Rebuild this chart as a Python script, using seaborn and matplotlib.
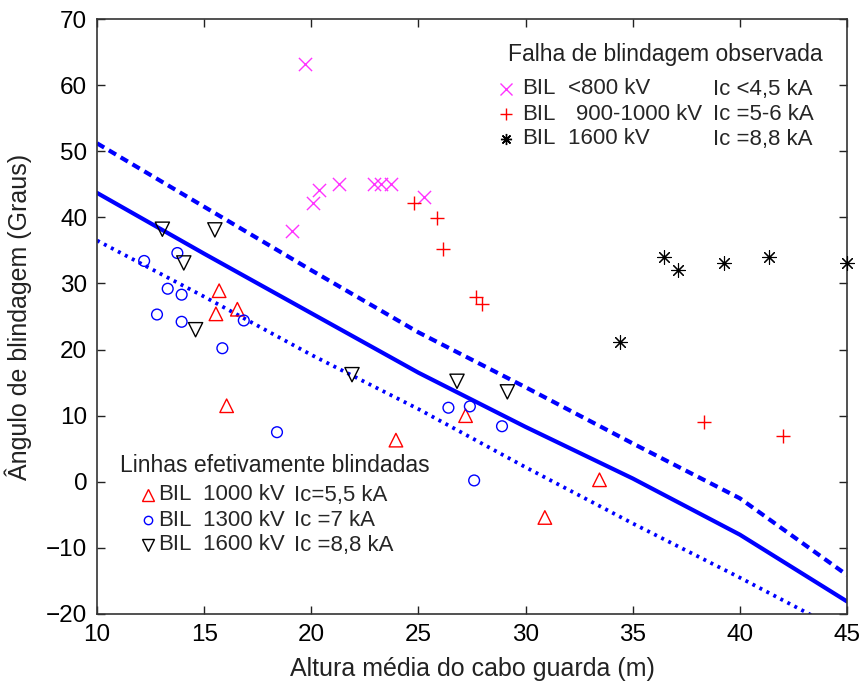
import seaborn as sns
import matplotlib.pyplot as plt

# curvas de referencia (media, limite superior, limite inferior)
curva_x = [10, 15, 20, 25, 30, 35, 40, 45]
curva_media = [43.7, 34.5, 25.5, 16.5, 8.3, 0.5, -8.0, -18.1]
curva_sup = [51.2, 41.6, 32.0, 22.6, 14.3, 5.8, -2.5, -14.1]
curva_inf = [36.5, 28.0, 19.2, 11.0, 2.2, -6.3, -14.5, -23.0]

# falha de blindagem observada
bil800_x = [19.7, 19.1, 20.1, 20.35, 21.3, 22.95, 23.25, 23.7, 25.25]
bil800_y = [63.2, 38.0, 42.2, 44.1, 45.0, 45.0, 45.0, 45.0, 43.1]
bil1000_x = [24.8, 25.85, 26.15, 27.7, 27.95, 38.35, 42.0]
bil1000_y = [42.2, 39.9, 35.2, 28.0, 26.9, 9.0, 7.0]
bil1600_x = [34.4, 36.45, 37.1, 39.25, 41.35, 45.0]
bil1600_y = [21.1, 34.0, 32.0, 33.1, 34.0, 33.1]

# linhas efetivamente blindadas
tri_x = [15.7, 15.55, 16.55, 16.05, 23.95, 27.2, 30.9, 33.45]
tri_y = [28.9, 25.4, 26.1, 11.5, 6.3, 10.0, -5.4, 0.3]
circ_x = [12.2, 13.75, 13.3, 13.95, 12.8, 13.95, 16.85, 15.85, 18.4, 26.4, 27.4, 28.9, 27.6]
circ_y = [33.4, 34.6, 29.2, 28.3, 25.3, 24.2, 24.4, 20.2, 7.5, 11.2, 11.4, 8.4, 0.2]
inv_x = [13.05, 15.5, 14.05, 14.6, 21.9, 26.8, 29.15]
inv_y = [38.2, 38.1, 33.1, 23.0, 16.2, 15.2, 13.6]

xticks = list(range(10, 46, 5))
yticks = list(range(-20, 71, 10))

sns.set_style("ticks")
plt.rcParams['font.family'] = ['Liberation Sans', 'DejaVu Sans']

W, H = 861, 686
fig = plt.figure(figsize=(W / 100, H / 100), dpi=100)
ax = fig.add_axes([97 / W, 1 - 614 / H, 750 / W, 595 / H])

def fx(px):
    return px / W

def fy(py):
    return 1 - py / H

blue = '#0000ff'
sns.lineplot(x=curva_x, y=curva_media, color=blue, lw=3, ax=ax)
sns.lineplot(x=curva_x, y=curva_sup, color=blue, lw=3, linestyle=(0, (2, 1.3)), ax=ax)
sns.lineplot(x=curva_x, y=curva_inf, color=blue, lw=2.7, linestyle=(0, (0.8, 1.3)), ax=ax)

asterisco = (8, 2, 0)
sns.scatterplot(x=bil800_x, y=bil800_y, marker='x', s=90, color='#ff33ff', linewidth=1, ax=ax, zorder=3)
sns.scatterplot(x=bil1000_x, y=bil1000_y, marker='+', s=110, color='#ff0000', linewidth=1, ax=ax, zorder=3)
sns.scatterplot(x=bil1600_x, y=bil1600_y, marker=asterisco, s=100, color='black', linewidth=0.8,
                ax=ax, zorder=3, clip_on=False)
sns.scatterplot(x=tri_x, y=tri_y, marker='^', s=95, facecolor='none', edgecolor='#ff0000', linewidth=1, ax=ax, zorder=3)
sns.scatterplot(x=circ_x, y=circ_y, marker='o', s=60, facecolor='none', edgecolor=blue, linewidth=1, ax=ax, zorder=3)
sns.scatterplot(x=inv_x, y=inv_y, marker='v', s=105, facecolor='none', edgecolor='black', linewidth=1, ax=ax, zorder=3)

ax.set_xlim(10, 45)
ax.set_ylim(-20, 70)
ax.set_xticks(xticks)
ax.set_yticks(yticks)
ax.tick_params(direction='in', length=6, width=1, top=True, right=True,
               labelsize=17.5, pad=7, colors='#222222', labelcolor='black')
for s in ax.spines.values():
    s.set_visible(True)
    s.set_linewidth(1.2)
    s.set_color('#333333')
ax.set_xlabel('Altura média do cabo guarda (m)', fontsize=18, labelpad=8, color='#222222')
ax.set_ylabel('Ângulo de blindagem (Graus)', fontsize=18, labelpad=10, color='#222222')

# legenda superior
fs = 16
fig.text(fx(508), fy(54), 'Falha de blindagem observada', fontsize=16.5, va='center', color='#222222')
leg1 = [('x', '#ff33ff', '<800 kV', 'Ic <4,5 kA', 568),
        ('+', '#ff0000', '900-1000 kV', 'Ic =5-6 kA', 576),
        (asterisco, 'black', '1600 kV', 'Ic =8,8 kA', 568)]
for i, (m, c, v, ic, vx) in enumerate(leg1):
    py = 89 + i * 25
    ax.plot([fx(506)], [fy(py)], marker=m, color=c, ms=8, mew=1, ls='none',
            transform=fig.transFigure, clip_on=False, zorder=5)
    fig.text(fx(522), fy(py), 'BIL', fontsize=fs, va='center')
    fig.text(fx(vx), fy(py), v, fontsize=fs, va='center')
    fig.text(fx(713), fy(py), ic, fontsize=fs, va='center')

# legenda inferior
fig.text(fx(120), fy(465), 'Linhas efetivamente blindadas', fontsize=16.5, va='center', color='#222222')
leg2 = [('^', '#ff0000', '1000 kV', 'Ic=5,5 kA'),
        ('o', blue, '1300 kV', 'Ic =7 kA'),
        ('v', 'black', '1600 kV', 'Ic =8,8 kA')]
for i, (m, c, v, ic) in enumerate(leg2):
    py = 495 + i * 25
    ax.plot([fx(148)], [fy(py)], marker=m, color=c, ms=6 if m == 'o' else 8, mew=1,
            mfc='none', ls='none', transform=fig.transFigure, clip_on=False, zorder=5)
    fig.text(fx(158), fy(py), 'BIL', fontsize=fs, va='center')
    fig.text(fx(203), fy(py), v, fontsize=fs, va='center')
    fig.text(fx(294), fy(py), ic, fontsize=fs, va='center')

fig.savefig('out.png', dpi=100)
